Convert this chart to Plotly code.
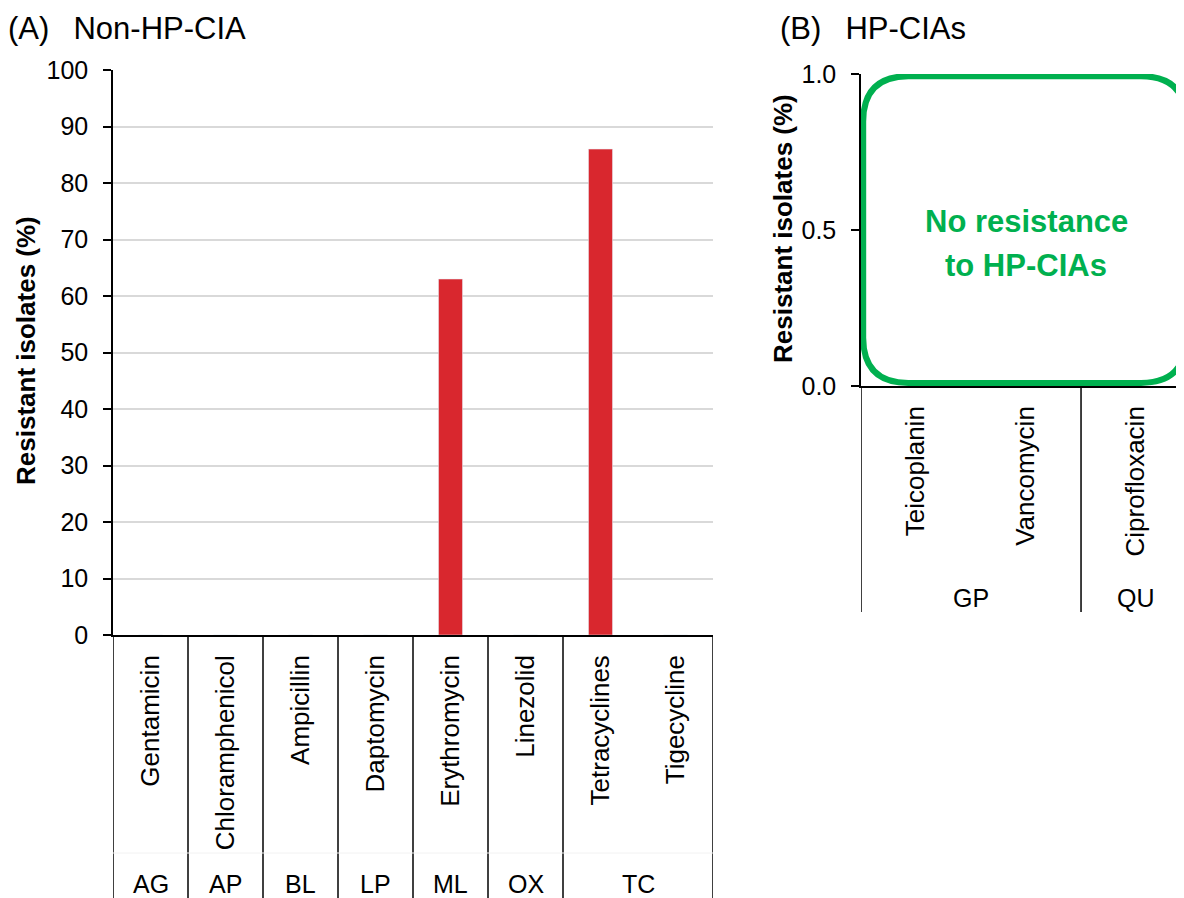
import plotly.graph_objects as go

# Panel A: non-HP-CIA antimicrobials
drugs_a = ["Gentamicin", "Chloramphenicol", "Ampicillin", "Daptomycin",
           "Erythromycin", "Linezolid", "Tetracyclines", "Tigecycline"]
classes_a = ["AG", "AP", "BL", "LP", "ML", "OX", "TC", "TC"]
resist_a = [0, 0, 0, 0, 63, 0, 86, 0]

# Panel B: HP-CIAs (no resistance found)
drugs_b = ["Teicoplanin", "Vancomycin", "Ciprofloxacin"]
classes_b = ["GP", "GP", "QU"]
resist_b = [0, 0, 0]

# the page body adds an 8px margin, so the figure is drawn 8px smaller
OFF = 8
W, H = 1184 - OFF, 898 - OFF
RED = "#d9272e"
GREEN = "#00b04f"
FONT = "Liberation Sans, Arial, sans-serif"
FS = 25


def px_x(p):
    return (p - OFF) / W


def px_y(p):
    return (H - (p - OFF)) / H


def groups(classes):
    # returns (label, first index, last index) for runs of the same class
    out = []
    start = 0
    for i in range(1, len(classes) + 1):
        if i == len(classes) or classes[i] != classes[start]:
            out.append((classes[start], start, i - 1))
            start = i
    return out


fig = go.Figure()
fig.add_trace(go.Bar(x=drugs_a, y=resist_a, marker_color=RED, width=0.32,
                     xaxis="x", yaxis="y", showlegend=False))
fig.add_trace(go.Bar(x=drugs_b, y=resist_b, marker_color=RED, width=0.32,
                     xaxis="x2", yaxis="y2", showlegend=False))

axis_font = dict(family=FONT, size=FS, color="black")
xcommon = dict(type="category", showline=True, linecolor="black", linewidth=1.5,
               ticks="", tickangle=-90, tickfont=dict(family=FONT, size=26, color="black"),
               ticklabelstandoff=8, showgrid=False, zeroline=False, automargin=False)
ycommon = dict(showline=True, linecolor="black", linewidth=1.5,
               ticks="outside", ticklen=8, tickcolor="black", tickwidth=1.5,
               tickfont=axis_font, ticklabelstandoff=10, showgrid=True,
               gridcolor="#d9d9d9", gridwidth=1.5, zeroline=False, automargin=False)

fig.update_layout(
    width=W, height=H,
    margin=dict(l=0, r=0, t=0, b=0, autoexpand=False),
    paper_bgcolor="white", plot_bgcolor="white",
    font=dict(family=FONT, color="black"),
    xaxis=dict(domain=[px_x(113), px_x(713)], range=[-0.5, 7.5], anchor="y", **xcommon),
    yaxis=dict(domain=[px_y(635), px_y(70)], range=[0, 100], dtick=10, anchor="x", **ycommon),
    xaxis2=dict(domain=[px_x(861), 1.0], range=[-0.5, 2.436], anchor="y2", **xcommon),
    yaxis2=dict(domain=[px_y(386), px_y(74)], range=[0, 1], tickvals=[0, 0.5, 1],
                tickformat=".1f", anchor="x2", **ycommon),
)

shapes = []
annotations = []

# Category group separators and class labels below each panel
for xref, drugs, classes, y_axis, y_bottom, y_label in [
    ("x", drugs_a, classes_a, 635, 898, 884),
    ("x2", drugs_b, classes_b, 386, 612, 598),
]:
    grp = groups(classes)
    edges = [-0.5] + [g[2] + 0.5 for g in grp]
    for e in edges:
        shapes.append(dict(type="line", xref=xref, yref="paper", x0=e, x1=e,
                           y0=px_y(y_axis), y1=px_y(y_bottom),
                           line=dict(color="black", width=1.5)))
    for label, i0, i1 in grp:
        annotations.append(dict(xref=xref, yref="paper", x=(i0 + i1) / 2,
                                y=px_y(y_label), text=label, showarrow=False,
                                font=dict(family=FONT, size=FS, color="black"),
                                xanchor="center", yanchor="middle"))

# faint divider between the two label rows in panel A
shapes.append(dict(type="line", xref="x", yref="paper", x0=-0.5, x1=7.5,
                   y0=px_y(853), y1=px_y(853), line=dict(color="#f2f2f2", width=1)))

# rounded green box in panel B
x0, x1, y0, y1 = -0.48, 2.455, 0.01, 0.993
rx, ry = 0.41, 0.145
path = (f"M {x0 + rx},{y1} L {x1 - rx},{y1} Q {x1},{y1} {x1},{y1 - ry} "
        f"L {x1},{y0 + ry} Q {x1},{y0} {x1 - rx},{y0} "
        f"L {x0 + rx},{y0} Q {x0},{y0} {x0},{y0 + ry} "
        f"L {x0},{y1 - ry} Q {x0},{y1} {x0 + rx},{y1} Z")
shapes.append(dict(type="path", xref="x2", yref="y2", path=path,
                   fillcolor="white", line=dict(color=GREEN, width=6), layer="above"))

annotations.append(dict(xref="x2", yref="y2", x=1, y=0.527, text="<b>No resistance</b>",
                        showarrow=False, font=dict(family=FONT, size=31, color=GREEN)))
annotations.append(dict(xref="x2", yref="y2", x=1, y=0.385, text="<b>to HP-CIAs</b>",
                        showarrow=False, font=dict(family=FONT, size=31, color=GREEN)))

# y-axis titles
annotations.append(dict(xref="paper", yref="paper", x=px_x(26), y=px_y(351),
                        text="<b>Resistant isolates (%)</b>", textangle=-90,
                        showarrow=False, xanchor="center", yanchor="middle",
                        font=dict(family=FONT, size=26, color="black")))
annotations.append(dict(xref="paper", yref="paper", x=px_x(783), y=px_y(229),
                        text="<b>Resistant isolates (%)</b>", textangle=-90,
                        showarrow=False, xanchor="center", yanchor="middle",
                        font=dict(family=FONT, size=26, color="black")))

# panel titles
annotations.append(dict(xref="paper", yref="paper", x=px_x(6), y=px_y(28),
                        text="(A)\u2002\u00a0Non-HP-CIA", showarrow=False,
                        xanchor="left", yanchor="middle",
                        font=dict(family=FONT, size=31, color="black")))
annotations.append(dict(xref="paper", yref="paper", x=px_x(778), y=px_y(28),
                        text="(B)\u2002\u00a0HP-CIAs", showarrow=False,
                        xanchor="left", yanchor="middle",
                        font=dict(family=FONT, size=31, color="black")))

fig.update_layout(shapes=shapes, annotations=annotations)

fig.write_html("out.html")
